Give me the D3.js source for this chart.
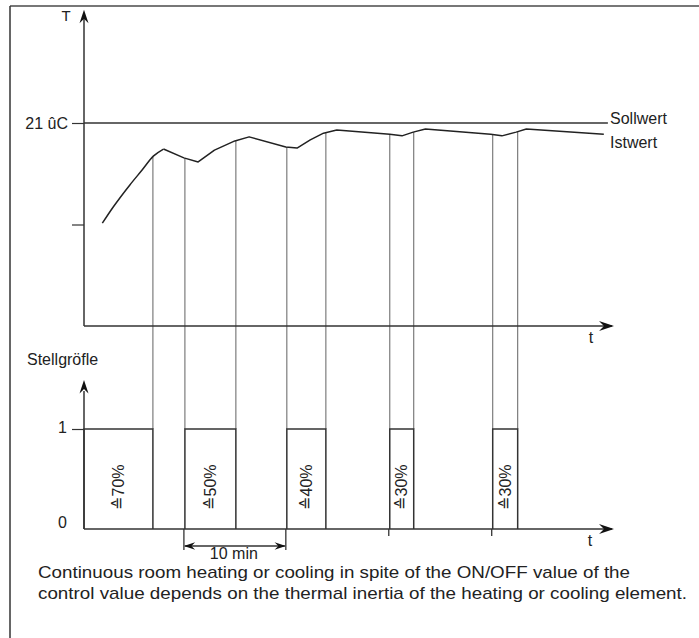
<!DOCTYPE html>
<html>
<head>
<meta charset="utf-8">
<script src="https://cdn.jsdelivr.net/npm/d3@7"></script>
<style>
  body { margin: 0; background: #fff; }
  svg text { font-family: "Liberation Sans", Arial, sans-serif; fill: #222; }
</style>
</head>
<body>
<div id="chart"></div>
<script>
// room temperature (Istwert): minutes, degC
// first part is the warm-up, drawn smooth
const warmTime = [1.8, 2.85, 4.5, 5.7, 6.8, 7.8]
const warmTemp = [18.04, 18.51, 19.17, 19.61, 20.02, 20.23]
const istTime = [7.8, 9.8, 11.2, 12.8, 14.8, 16.2, 19.8, 20.9, 22.2, 23.5, 24.8, 30.0, 31.2, 32.3, 33.5, 39.9, 41.0, 42.4, 43.4, 51.0]
const istTemp = [20.23, 19.97, 19.85, 20.20, 20.47, 20.59, 20.29, 20.26, 20.50, 20.70, 20.79, 20.67, 20.62, 20.73, 20.82, 20.67, 20.62, 20.73, 20.82, 20.67]
const sollwert = 21

// ON phases of the control value (Stellgroesse)
const pulseStart = [0, 9.9, 19.9, 30.0, 40.1]
const pulseEnd = [6.76, 14.9, 23.73, 32.35, 42.55]
const pulseLabel = ["≙70%", "≙50%", "≙40%", "≙30%", "≙30%"]

const tempTicks = [18, 21]
const tempTickLabels = ["", "21 ûC"]
const stellTicks = [0, 1]
const stellTickLabels = ["0", "1"]
const offTicks = [30.0, 40.1]
const periodMarks = [9.9, 19.9]

const caption = [
    "Continuous room heating or cooling in spite of the ON/OFF value of the",
    "control value depends on the thermal inertia of the heating or cooling element."
]
const captionWidth = [592, 649]

var width = 699, height = 638

var svg = d3.select("#chart").append("svg")
    .attr("width", width)
    .attr("height", height)

var x = d3.scaleLinear().domain([0, 52]).range([84, 614])
var yT = d3.scaleLinear().domain([15, 21]).range([326, 123])
var yS = d3.scaleLinear().domain([0, 1]).range([529, 429])

// barbed arrow head, pointing in direction angle (deg)
function arrowHead(px, py, angle, size) {
    var s = size || 1
    svg.append("path")
        .attr("d", `M0,0 L${-15 * s},${-5 * s} L${-10 * s},0 L${-15 * s},${5 * s} Z`)
        .attr("transform", `translate(${px},${py}) rotate(${angle})`)
        .attr("fill", "#111")
}

// frame
svg.append("line").attr("x1", 10).attr("x2", width).attr("y1", 6).attr("y2", 6)
    .attr("stroke", "#777").attr("stroke-width", 2)
svg.append("line").attr("x1", 10).attr("x2", 10).attr("y1", 6).attr("y2", height)
    .attr("stroke", "#333").attr("stroke-width", 1.5)

// interpolate the temperature curve at time t
function tempAt(t) {
    var ts = warmTime.concat(istTime.slice(1))
    var vs = warmTemp.concat(istTemp.slice(1))
    for (var i = 1; i < ts.length; i++) {
        if (t <= ts[i]) {
            var f = (t - ts[i - 1]) / (ts[i] - ts[i - 1])
            return vs[i - 1] + f * (vs[i] - vs[i - 1])
        }
    }
    return vs[vs.length - 1]
}

// vertical guide lines from the curve down to the pulse edges
var edges = []
pulseStart.forEach(function(d, i) {
    if (d > 0) edges.push(d)
    edges.push(pulseEnd[i])
})
svg.append("g").selectAll("line")
    .data(edges)
    .enter().append("line")
    .attr("x1", d => x(d)).attr("x2", d => x(d))
    .attr("y1", d => yT(tempAt(d)))
    .attr("y2", yS(1))
    .attr("stroke", "#707070")
    .attr("stroke-width", 1.1)

// ---------- top chart ----------
// Sollwert
svg.append("line")
    .attr("x1", x(0)).attr("x2", x(51.4))
    .attr("y1", yT(sollwert)).attr("y2", yT(sollwert))
    .attr("stroke", "#333").attr("stroke-width", 1.4)

var warmLine = d3.line()
    .x((d, i) => x(warmTime[i]))
    .y(d => yT(d))
    .curve(d3.curveMonotoneX)
var line = d3.line()
    .x((d, i) => x(istTime[i]))
    .y(d => yT(d))

svg.append("path")
    .datum(warmTemp)
    .attr("d", warmLine)
    .attr("fill", "none")
    .attr("stroke", "#222")
    .attr("stroke-width", 1.5)

svg.append("path")
    .datum(istTemp)
    .attr("d", line)
    .attr("fill", "none")
    .attr("stroke", "#222")
    .attr("stroke-width", 1.5)
    .attr("stroke-linejoin", "round")

var axisT = d3.axisLeft(yT)
    .tickValues(tempTicks)
    .tickSize(12)
    .tickPadding(4)
    .tickFormat((d, i) => tempTickLabels[i])
var gT = svg.append("g").attr("transform", `translate(${x(0)},0)`).call(axisT)
gT.select(".domain").remove()
gT.selectAll("line").attr("stroke", "#333").attr("stroke-width", 1.2)
gT.selectAll("text").style("font-size", "16px").attr("font-family", null).attr("fill", "#222")

// axes with arrows
svg.append("line").attr("x1", x(0)).attr("x2", x(0)).attr("y1", yT(15)).attr("y2", yT(24.2))
    .attr("stroke", "#333").attr("stroke-width", 1.5)
arrowHead(x(0), yT(24.35), -90, 0.9)
svg.append("line").attr("x1", x(0)).attr("x2", x(51.8)).attr("y1", yT(15)).attr("y2", yT(15))
    .attr("stroke", "#333").attr("stroke-width", 1.5)
arrowHead(x(52.0), yT(15), 0)

svg.append("text").attr("x", 66).attr("y", 21).attr("text-anchor", "middle")
    .style("font-size", "15px").text("T")
svg.append("text").attr("x", 591).attr("y", 343).attr("text-anchor", "middle")
    .style("font-size", "16px").text("t")
svg.append("text").attr("x", 610).attr("y", 124).style("font-size", "16px").text("Sollwert")
svg.append("text").attr("x", 610).attr("y", 148).style("font-size", "16px").text("Istwert")

// ---------- bottom chart ----------
svg.append("text").attr("x", 27).attr("y", 365).style("font-size", "16px").text("Stellgröfle")

var pulses = svg.append("g").selectAll("g")
    .data(pulseStart)
    .enter().append("g")

pulses.append("path")
    .attr("d", (d, i) => `M${x(d)},${yS(0)} V${yS(1)} H${x(pulseEnd[i])} V${yS(0)}`)
    .attr("fill", "none")
    .attr("stroke", "#333")
    .attr("stroke-width", 1.5)

pulses.append("text")
    .attr("transform", (d, i) => `translate(${(x(d) + x(pulseEnd[i])) / 2},${yS(0.42)}) rotate(-90)`)
    .attr("text-anchor", "middle")
    .attr("dy", "0.35em")
    .style("font-size", "16px")
    .text((d, i) => pulseLabel[i])

var axisS = d3.axisLeft(yS)
    .tickValues(stellTicks)
    .tickSize(12)
    .tickPadding(5)
    .tickFormat((d, i) => stellTickLabels[i])
var gS = svg.append("g").attr("transform", `translate(${x(0)},0)`).call(axisS)
gS.select(".domain").remove()
gS.selectAll("line").attr("stroke", "#333").attr("stroke-width", 1.2)
    .filter(d => d === 0).remove()
gS.selectAll("text").style("font-size", "16px").attr("font-family", null).attr("fill", "#222")
    .attr("dy", (d) => d === 0 ? "-0.1em" : "0.2em")

svg.append("line").attr("x1", x(0)).attr("x2", x(0)).attr("y1", yS(0)).attr("y2", yS(1.38))
    .attr("stroke", "#333").attr("stroke-width", 1.5)
arrowHead(x(0), yS(1.49), -90, 0.9)
svg.append("line").attr("x1", x(0)).attr("x2", x(51.8)).attr("y1", yS(0)).attr("y2", yS(0))
    .attr("stroke", "#333").attr("stroke-width", 1.5)
arrowHead(x(52.0), yS(0), 0)
svg.append("text").attr("x", 590).attr("y", 546).attr("text-anchor", "middle")
    .style("font-size", "16px").text("t")

// small ticks below the time axis
svg.append("g").selectAll("line")
    .data(offTicks)
    .enter().append("line")
    .attr("x1", d => x(d) - 1).attr("x2", d => x(d) - 1)
    .attr("y1", yS(0)).attr("y2", yS(0) + 7)
    .attr("stroke", "#333").attr("stroke-width", 1.3)

// 10 min period dimension
svg.append("g").selectAll("line")
    .data(periodMarks)
    .enter().append("line")
    .attr("x1", d => x(d) - 1).attr("x2", d => x(d) - 1)
    .attr("y1", yS(0)).attr("y2", yS(0) + 21)
    .attr("stroke", "#333").attr("stroke-width", 1.3)
svg.append("line")
    .attr("x1", x(periodMarks[0])).attr("x2", x(periodMarks[1]) - 2)
    .attr("y1", 546).attr("y2", 546)
    .attr("stroke", "#333").attr("stroke-width", 1.3)
arrowHead(x(periodMarks[0]) - 1, 546, 180, 0.75)
arrowHead(x(periodMarks[1]) - 1, 546, 0, 0.75)
svg.append("text")
    .attr("x", (x(periodMarks[0]) + x(periodMarks[1])) / 2 - 2).attr("y", 559)
    .attr("text-anchor", "middle")
    .style("font-size", "16px").text("10 min")

// caption
svg.append("g").selectAll("text")
    .data(caption)
    .enter().append("text")
    .attr("x", 38)
    .attr("y", (d, i) => 578 + i * 21)
    .attr("textLength", (d, i) => captionWidth[i])
    .attr("lengthAdjust", "spacingAndGlyphs")
    .style("font-size", "17px")
    .text(d => d)
</script>
</body>
</html>
